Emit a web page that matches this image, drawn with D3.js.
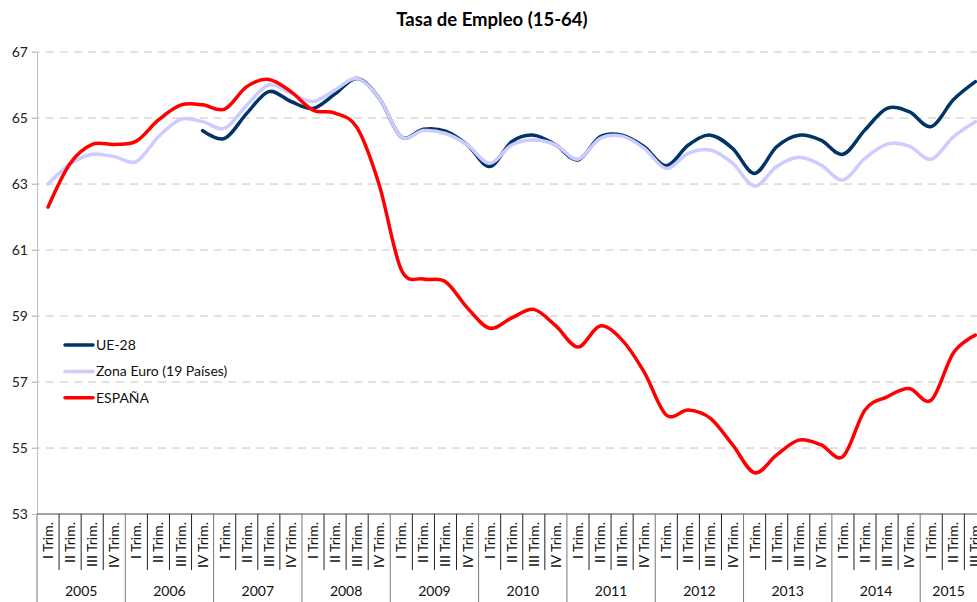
<!DOCTYPE html>
<html>
<head>
<meta charset="utf-8">
<script src="https://cdn.jsdelivr.net/npm/d3@7"></script>
<style>
  body { margin: 0; background: #fff; }
  svg { display: block; font-family: Lato, "Noto Sans", sans-serif; }
</style>
</head>
<body>
<div id="chart"></div>
<script>
// quarters 2005 I .. 2015 III
var years = ["2005","2006","2007","2008","2009","2010","2011","2012","2013","2014","2015"];
var quarterNames = ["I Trim.","II Trim.","III Trim.","IV Trim."];
var yTicks = [53, 55, 57, 59, 61, 63, 65, 67];

// UE-28 starts at 2006 IV (null before)
var ue28 = [null,null,null,null,null,null,null,64.62,
    64.38,65.14,65.8,65.5, 65.29,65.73,66.2,65.6,
    64.43,64.66,64.6,64.18, 63.53,64.28,64.48,64.18,
    63.73,64.43,64.48,64.13, 63.55,64.18,64.48,64.08,
    63.32,64.13,64.48,64.33, 63.9,64.64,65.29,65.19,
    64.74,65.55,66.1];
var zonaEuro = [63.0,63.6,63.9,63.83, 63.68,64.43,64.96,64.89,
    64.69,65.39,66.0,65.75, 65.5,65.85,66.2,65.6,
    64.43,64.62,64.53,64.18, 63.63,64.18,64.33,64.18,
    63.75,64.38,64.45,64.08, 63.47,63.93,64.03,63.63,
    62.94,63.53,63.81,63.58, 63.12,63.78,64.21,64.15,
    63.75,64.43,64.89];
var espana = [62.3,63.62,64.2,64.2, 64.3,64.94,65.39,65.4,
    65.27,65.95,66.17,65.8, 65.24,65.15,64.7,62.97,
    60.4,60.12,60.04,59.24, 58.63,58.94,59.2,58.7,
    58.06,58.7,58.27,57.3, 56.0,56.15,55.9,55.1,
    54.25,54.79,55.24,55.1, 54.74,56.15,56.55,56.8,
    56.45,57.88,58.42];

var series = [
  {name: "UE-28", values: ue28, color: "#003366"},
  {name: "Zona Euro (19 Países)", values: zonaEuro, color: "#ccccff"},
  {name: "ESPAÑA", values: espana, color: "#ff0000"}
];

var W = 977, H = 602;
var nQ = espana.length;
var qWidth = 22.08;
var margin = {left: 37, top: 52, bottom: 514};

var svg = d3.select("#chart").append("svg")
    .attr("width", W)
    .attr("height", H);

var idx = d3.range(nQ);
var x = d3.scaleBand()
    .domain(idx)
    .range([margin.left, margin.left + nQ * qWidth]);

var y = d3.scaleLinear()
    .domain([53, 67])
    .range([margin.bottom, margin.top]);

// title
svg.append("text")
    .attr("x", 492)
    .attr("y", 26)
    .attr("text-anchor", "middle")
    .style("font-weight", "bold")
    .style("font-size", "18.5px")
    .text("Tasa de Empleo (15-64)");

// gridlines
svg.append("g")
    .selectAll("line")
    .data(yTicks.filter(function(d){ return d > 53; }))
    .enter().append("line")
    .attr("x1", margin.left - 5)
    .attr("x2", W)
    .attr("y1", function(d){ return y(d); })
    .attr("y2", function(d){ return y(d); })
    .attr("stroke", "#c6c6c6")
    .attr("stroke-width", 1)
    .attr("stroke-dasharray", "8,6");

// Y axis
var yAxis = svg.append("g")
    .attr("transform", "translate(" + margin.left + ",0)")
    .call(d3.axisLeft(y).tickValues(yTicks).tickSize(5).tickFormat(d3.format("d")));
yAxis.select(".domain").attr("stroke", "#bfbfbf");
yAxis.selectAll(".tick line").attr("stroke", "#bfbfbf");
yAxis.selectAll("text")
    .attr("x", -9)
    .style("font-size", "14px")
    .style("font-family", "Lato, sans-serif")
    .attr("fill", "#222");

// lines
var line = d3.line()
    .defined(function(d){ return d != null; })
    .x(function(d, i){ return x(i) + x.bandwidth() / 2; })
    .y(function(d){ return y(d); })
    .curve(d3.curveCardinal.tension(0));

svg.append("g")
    .selectAll("path")
    .data(series)
    .enter().append("path")
    .attr("d", function(s){ return line(s.values); })
    .attr("fill", "none")
    .attr("stroke", function(s){ return s.color; })
    .attr("stroke-width", 3.5)
    .attr("stroke-linejoin", "round")
    .attr("stroke-linecap", "round");

// X axis: quarters
var xg = svg.append("g");
xg.append("line")
    .attr("x1", margin.left).attr("x2", x.range()[1])
    .attr("y1", margin.bottom).attr("y2", margin.bottom)
    .attr("stroke", "#444");

xg.selectAll(".qtick")
    .data(d3.range(nQ + 1))
    .enter().append("line")
    .attr("class", "qtick")
    .attr("x1", function(i){ return margin.left + i * x.step(); })
    .attr("x2", function(i){ return margin.left + i * x.step(); })
    .attr("y1", margin.bottom)
    .attr("y2", function(i){ return i % 4 === 0 ? H : 570; })
    .attr("stroke", function(i){ return i % 4 === 0 ? "#777" : "#222"; });

xg.selectAll(".qlab")
    .data(idx)
    .enter().append("text")
    .attr("class", "qlab")
    .attr("transform", function(i){
        return "translate(" + (x(i) + x.bandwidth() / 2 + 5) + "," + 522 + ") rotate(-90)";
    })
    .attr("text-anchor", "end")
    .style("font-size", "14px")
    .attr("fill", "#111")
    .text(function(i){ return quarterNames[i % 4]; });

// year labels, centred on the visible part of each year
xg.selectAll(".ylab")
    .data(years)
    .enter().append("text")
    .attr("class", "ylab")
    .attr("x", function(d, k){
        var x0 = margin.left + k * 4 * x.step();
        var x1 = Math.min(W, margin.left + Math.min(nQ, (k + 1) * 4) * x.step());
        return (x0 + x1) / 2;
    })
    .attr("y", 596)
    .attr("text-anchor", "middle")
    .style("font-size", "14px")
    .attr("fill", "#111")
    .text(function(d){ return d; });

// legend
var legend = svg.append("g")
    .selectAll("g")
    .data(series)
    .enter().append("g")
    .attr("transform", function(d, i){ return "translate(65," + (345 + i * 26.4) + ")"; });
legend.append("line")
    .attr("x1", 0).attr("x2", 28)
    .attr("stroke", function(d){ return d.color; })
    .attr("stroke-width", 3.5)
    .attr("stroke-linecap", "round");
legend.append("text")
    .attr("x", 31)
    .attr("y", 5)
    .style("font-size", "14px")
    .attr("fill", "#111")
    .text(function(d){ return d.name; });
</script>
</body>
</html>
